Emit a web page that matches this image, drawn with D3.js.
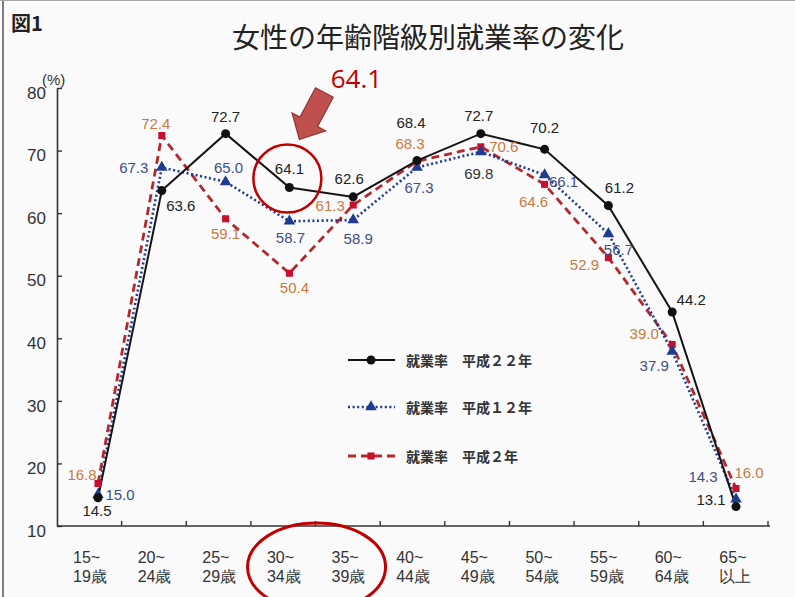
<!DOCTYPE html>
<html><head><meta charset="utf-8">
<script src="https://cdn.jsdelivr.net/npm/d3@7"></script>
<style>
html,body{margin:0;padding:0;background:#fafafa;}
svg{display:block;}
</style></head>
<body>
<script>
// ---- data ----
const categories = ["15~19歳","20~24歳","25~29歳","30~34歳","35~39歳","40~44歳","45~49歳","50~54歳","55~59歳","60~64歳","65~以上"];
const h22 = [14.5,63.6,72.7,64.1,62.6,68.4,72.7,70.2,61.2,44.2,13.1];
const h12 = [15.0,67.3,65.0,58.7,58.9,67.3,69.8,66.1,56.7,37.9,14.3];
const h2  = [16.8,72.4,59.1,50.4,61.3,68.3,70.6,64.6,52.9,39.0,16.0];
const seriesNames = ["就業率　平成２２年","就業率　平成１２年","就業率　平成２年"];
const yTicks = [10,20,30,40,50,60,70,80];
const titleText = "女性の年齢階級別就業率の変化";
const figLabel = "図1";
const highlightValue = 64.1;

// label placement offsets (relative to each point)
const off22 = [[-1,13],[19,15],[0,-17],[0,-19],[-4,-18],[-6,-38],[-2,-18],[0,-22],[11,-18],[19,-13],[-25,-7]];
const off12 = [[22,0],[-28,0],[3,-14],[1,16],[5,18],[2,20],[-2,22],[19,7],[10,16],[-18,14],[-33,-23]];
const off2  = [[-16,-9],[-6,-12],[0,15],[5,14],[-23,0],[-7,-18],[23,0],[-11,17],[-24,7],[-28,-11],[13,-16]];

const W = 795, H = 597;
const svg = d3.select("body").append("svg").attr("width", W).attr("height", H);
svg.append("rect").attr("width", W).attr("height", H).attr("fill", "#fafafa");
// frame edges
svg.append("line").attr("x1",3).attr("x2",3).attr("y1",0).attr("y2",H).attr("stroke","#555").attr("stroke-width",1.5);
svg.append("line").attr("x1",0).attr("x2",W).attr("y1",0.5).attr("y2",0.5).attr("stroke","#aaa").attr("stroke-width",1);

const JP = "'Noto Sans CJK JP','Noto Sans',sans-serif";
const NUM = "'Liberation Sans',Arial,sans-serif";

// scales
const x = d3.scalePoint().domain(categories).range([98, 736]);
const xb = d3.scaleBand().domain(categories).range([57, 768]).padding(0);
const y = d3.scaleLinear().domain([10, 80]).range([526, 88]);

// title
svg.append("text").attr("x", 428).attr("y", 48).attr("text-anchor","middle")
  .attr("font-family", JP).attr("font-size", 28).attr("fill", "#222").text(titleText);
svg.append("text").attr("x", 11).attr("y", 31)
  .attr("font-family", JP).attr("font-size", 20).attr("font-weight", "bold").attr("fill", "#222").text(figLabel);

// y axis
const yAxis = d3.axisLeft(y).tickValues(yTicks).tickSize(-5).tickSizeOuter(0).tickPadding(11);
const gy = svg.append("g").attr("transform", "translate(57,0)").call(yAxis);
gy.select(".domain").attr("stroke", "#333").attr("stroke-width", 1.6);
gy.selectAll(".tick line").attr("stroke", "#333").attr("stroke-width", 1.4);
gy.selectAll(".tick text").attr("font-family", NUM).attr("font-size", 17).attr("fill", "#333").attr("dy", "0.6em");
svg.append("text").attr("x", 42).attr("y", 85).attr("font-family", NUM).attr("font-size", 15).attr("fill", "#333").text("(%)");

// x axis
svg.append("line").attr("x1", 57).attr("x2", 770).attr("y1", y(10)).attr("y2", y(10)).attr("stroke", "#333").attr("stroke-width", 1.6);
svg.selectAll(".xtick").data(categories).join("line").attr("class","xtick")
  .attr("x1", d => xb(d) + xb.bandwidth()).attr("x2", d => xb(d) + xb.bandwidth())
  .attr("y1", y(10)).attr("y2", y(10) - 5).attr("stroke", "#333").attr("stroke-width", 1.4);
const xl = svg.selectAll(".xlab").data(categories).join("text").attr("class","xlab")
  .attr("font-family", NUM).attr("font-size", 16).attr("fill", "#333");
xl.append("tspan").attr("x", d => xb(d) + 16).attr("y", 563).text(d => d.slice(0, d.indexOf("~") + 1));
xl.append("tspan").attr("x", d => xb(d) + 16).attr("y", 582).text(d => d.slice(d.indexOf("~") + 1));

// series
const fmt = d3.format(".1f");
const series = [
  {name: seriesNames[2], vals: h2, off: off2, color: "#b3282d", mcolor: "#c8102e", width: 2.8, dash: "8,5", sym: d3.symbolSquare, size: 50, lab: "#c77a44"},
  {name: seriesNames[1], vals: h12, off: off12, color: "#1f3a8f", mcolor: "#1f3c91", width: 2.6, dash: "2,2.6", sym: d3.symbolTriangle, size: 58, lab: "#3e4f86"},
  {name: seriesNames[0], vals: h22, off: off22, color: "#141414", mcolor: "#111", width: 2, dash: null, sym: d3.symbolCircle, size: 64, lab: "#222"}
];
const line = d3.line().x((d, i) => x(categories[i])).y(d => y(d));
series.forEach(s => {
  svg.append("path").datum(s.vals).attr("d", line).attr("fill", "none")
    .attr("stroke", s.color).attr("stroke-width", s.width).attr("stroke-dasharray", s.dash);
});
series.forEach(s => {
  svg.selectAll(null).data(s.vals).join("path")
    .attr("d", d3.symbol().type(s.sym).size(s.size))
    .attr("transform", (d, i) => `translate(${x(categories[i])},${y(d)})`)
    .attr("fill", s.mcolor);
});
series.forEach(s => {
  svg.selectAll(null).data(s.vals).join("text")
    .attr("x", (d, i) => x(categories[i]) + s.off[i][0])
    .attr("y", (d, i) => y(d) + s.off[i][1])
    .attr("text-anchor", "middle").attr("dominant-baseline", "central")
    .attr("font-family", NUM).attr("font-size", 15)
    .attr("fill", (d, i) => (s.vals === h12 && i === 6) ? "#333" : s.lab)
    .text(d => fmt(d));
});

// legend
const legY = [360, 407, 456];
const legSeries = [series[2], series[1], series[0]];
legSeries.forEach((s, k) => {
  const g = svg.append("g").attr("transform", `translate(0,${legY[k]})`);
  g.append("line").attr("x1", 348).attr("x2", 395).attr("y1", 0).attr("y2", 0)
    .attr("stroke", s.color).attr("stroke-width", s.width).attr("stroke-dasharray", s.dash);
  g.append("path").attr("d", d3.symbol().type(s.sym).size(s.size)).attr("transform", "translate(371,0)").attr("fill", s.mcolor);
  g.append("text").attr("x", 406).attr("y", 0).attr("dominant-baseline", "central")
    .attr("font-family", JP).attr("font-size", 14).attr("font-weight", "bold").attr("fill", "#333")
    .text(s.name);
});

// highlight annotations
const hi = h22.indexOf(highlightValue);
const px = x(categories[hi]), py = y(h22[hi]);
svg.append("circle").attr("cx", px - 2).attr("cy", py - 9).attr("r", 34)
  .attr("fill", "none").attr("stroke", "#c00000").attr("stroke-width", 2.5);
// arrow
const T = [px + 35, py - 95], P = [px + 10, py - 48];
const dx = P[0] - T[0], dy = P[1] - T[1], L = Math.hypot(dx, dy);
const u = [dx / L, dy / L], n = [-u[1], u[0]];
const sw = 10, hw = 19, hl = 20;
const Hh = [P[0] - u[0] * hl, P[1] - u[1] * hl];
const pts = [
  [T[0] + n[0] * sw, T[1] + n[1] * sw],
  [Hh[0] + n[0] * sw, Hh[1] + n[1] * sw],
  [Hh[0] + n[0] * hw, Hh[1] + n[1] * hw],
  P,
  [Hh[0] - n[0] * hw, Hh[1] - n[1] * hw],
  [Hh[0] - n[0] * sw, Hh[1] - n[1] * sw],
  [T[0] - n[0] * sw, T[1] - n[1] * sw]
];
svg.append("polygon").attr("points", pts.map(p => p.join(",")).join(" "))
  .attr("fill", "#c0504d").attr("stroke", "#8c3836").attr("stroke-width", 1.2);
svg.append("text").attr("x", px + 67).attr("y", py - 99).attr("text-anchor", "middle")
  .attr("font-family", "'Open Sans',sans-serif").attr("font-size", 26).attr("fill", "#c00000")
  .text(fmt(highlightValue));
// ellipse around 30~34 / 35~39 labels
const ex = (xb(categories[3]) + xb(categories[4]) + xb.bandwidth()) / 2;
svg.append("ellipse").attr("cx", ex + 1).attr("cy", 567).attr("rx", 69).attr("ry", 44)
  .attr("fill", "none").attr("stroke", "#c00000").attr("stroke-width", 3);
</script>
</body></html>
